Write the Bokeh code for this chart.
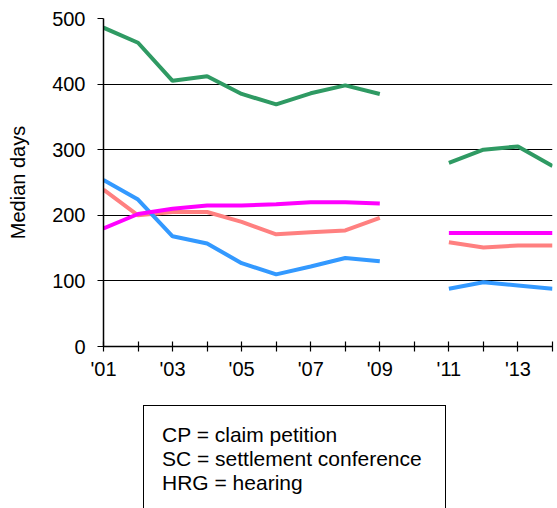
import math
from bokeh.plotting import figure
from bokeh.models import FixedTicker, Div
from bokeh.layouts import column
from bokeh.embed import file_html
from bokeh.resources import INLINE

nan = float("nan")
years = [2001, 2002, 2003, 2004, 2005, 2006, 2007, 2008, 2009, 2010, 2011, 2012, 2013, 2014]
green_vals = [486, 463, 405, 412, 385, 369, 386, 398, 385, nan, 280, 300, 305, 275]
blue_vals = [254, 224, 168, 157, 127, 110, 122, 135, 130, nan, 88, 98, 93, 88]
salmon_vals = [239, 200, 205, 205, 190, 171, 174, 177, 196, nan, 159, 151, 154, 154]
magenta_vals = [180, 202, 210, 215, 215, 217, 220, 220, 218, nan, 173, 173, 173, 173]
x_tick_labels = {2001: "'01", 2003: "'03", 2005: "'05", 2007: "'07", 2009: "'09", 2011: "'11", 2013: "'13"}
y_ticks = [0, 100, 200, 300, 400, 500]
notes = ["CP = claim petition", "SC = settlement conference", "HRG = hearing"]

FONT = "Liberation Sans"

p = figure(width=557, height=386, x_range=(2001, 2014), y_range=(0, 500),
           output_backend="svg", toolbar_location=None,
           min_border_left=103, min_border_right=5, min_border_top=18, min_border_bottom=40)
p.outline_line_color = None
p.background_fill_color = "white"

series = [(green_vals, "#2f9a63"), (salmon_vals, "#ff8080"), (blue_vals, "#3399ff"), (magenta_vals, "#ff00ff")]
for vals, col in series:
    p.line(years, vals, line_color=col, line_width=4)

# x axis
p.xaxis.ticker = FixedTicker(ticks=years)
p.xaxis.major_label_overrides = {y: x_tick_labels.get(y, "") for y in years}
p.xaxis.major_tick_in = 5
p.xaxis.major_tick_out = 5
p.xaxis.minor_tick_line_color = None
p.xaxis.axis_line_color = "black"
p.xaxis.major_tick_line_color = "black"
p.xaxis.axis_line_width = 1.5
p.xaxis.major_tick_line_width = 1.2
p.xaxis.major_label_text_font = FONT
p.xaxis.major_label_text_font_size = "20px"
p.xaxis.major_label_text_color = "black"
p.xaxis.major_label_standoff = 6

# y axis
p.yaxis.ticker = FixedTicker(ticks=y_ticks)
p.yaxis.major_tick_in = 0
p.yaxis.major_tick_out = 6
p.yaxis.minor_tick_line_color = None
p.yaxis.axis_line_color = "black"
p.yaxis.axis_line_width = 1.5
p.yaxis.major_tick_line_color = "black"
p.yaxis.major_tick_line_width = 1.2
p.yaxis.major_label_text_font = FONT
p.yaxis.major_label_text_font_size = "20px"
p.yaxis.major_label_text_color = "black"
p.yaxis.major_label_standoff = 12
p.yaxis.axis_label = "Median days"
p.yaxis.axis_label_text_font = FONT
p.yaxis.axis_label_text_font_size = "20px"
p.yaxis.axis_label_text_font_style = "normal"
p.yaxis.axis_label_text_color = "black"
p.yaxis.axis_label_standoff = 20

p.xgrid.visible = False
p.ygrid.ticker = FixedTicker(ticks=y_ticks)
p.ygrid.grid_line_color = "black"
p.ygrid.grid_line_width = 1.2

lines_html = "<br>".join(notes)
div = Div(width=557, height=122, text=(
    '<div style="margin-left:138px; margin-top:14px; height:110px; '
    'border:1px solid black; border-bottom:none; padding:17px 0 0 18px; box-sizing:border-box; width:303px; '
    f'font-family:\'{FONT}\'; font-size:21px; line-height:24px; color:black;">'
    f'{lines_html}</div>'))

layout = column(p, div, spacing=0)
open("out.html", "w").write(file_html(layout, INLINE))
